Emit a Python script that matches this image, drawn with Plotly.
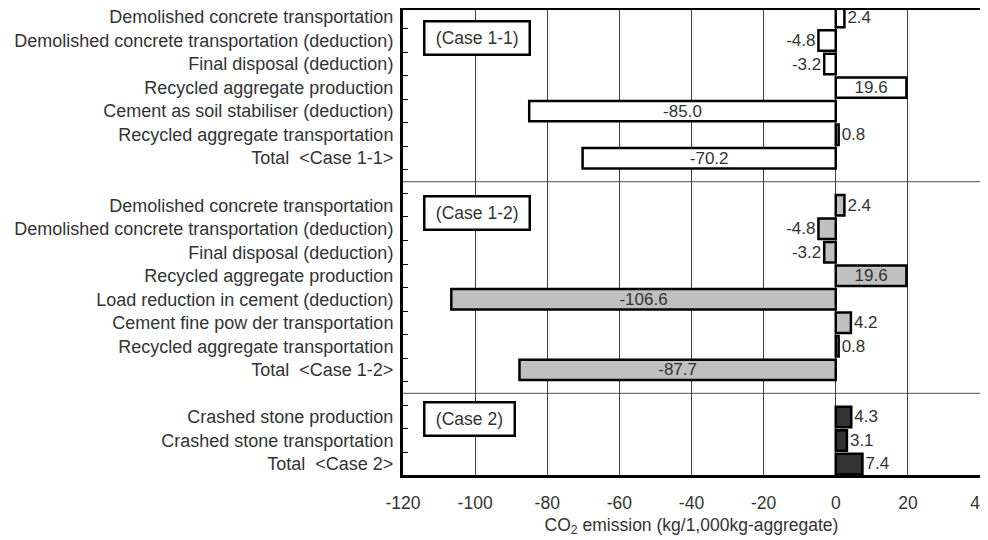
import plotly.graph_objects as go

# ---- data ----
case11_labels = [
    "Demolished concrete transportation",
    "Demolished concrete transportation (deduction)",
    "Final disposal (deduction)",
    "Recycled aggregate production",
    "Cement as soil stabiliser (deduction)",
    "Recycled aggregate transportation",
    "Total  <Case 1-1>",
]
case11_values = [2.4, -4.8, -3.2, 19.6, -85.0, 0.8, -70.2]

case12_labels = [
    "Demolished concrete transportation",
    "Demolished concrete transportation (deduction)",
    "Final disposal (deduction)",
    "Recycled aggregate production",
    "Load reduction in cement (deduction)",
    "Cement fine pow der transportation",
    "Recycled aggregate transportation",
    "Total  <Case 1-2>",
]
case12_values = [2.4, -4.8, -3.2, 19.6, -106.6, 4.2, 0.8, -87.7]

case2_labels = [
    "Crashed stone production",
    "Crashed stone transportation",
    "Total  <Case 2>",
]
case2_values = [4.3, 3.1, 7.4]

case_names = ["(Case 1-1)", "(Case 1-2)", "(Case 2)"]
x_ticks = [-120, -100, -80, -60, -40, -20, 0, 20, 40]
x_ticklabels = ["-120", "-100", "-80", "-60", "-40", "-20", "0", "20", "40"]
x_title = "CO<sub>2</sub> emission (kg/1,000kg-aggregate)"

groups = [
    (case11_labels, case11_values, "#ffffff"),
    (case12_labels, case12_values, "#c0c0c0"),
    (case2_labels, case2_values, "#333333"),
]
box_offsets = [0.88, 0.35, 0.08]

FONT = "Liberation Sans, Arial, sans-serif"
TXT = "#333333"


def esc(s):
    return s.replace("&", "&amp;").replace("<", "&lt;").replace(">", "&gt;").replace("  ", "\u00a0 ")


fig = go.Figure()
tickvals, ticktext = [], []
group_starts, dividers = [], []
pos = 0
for gi, (labels, values, color) in enumerate(groups):
    ys = list(range(pos, pos + len(labels)))
    group_starts.append(pos)
    tickvals += ys
    ticktext += [esc(l) for l in labels]
    textpos = ["inside" if abs(v) >= 15 else "outside" for v in values]
    fig.add_trace(go.Bar(
        x=values, y=ys, orientation="h", width=0.87,
        marker=dict(color=color, line=dict(color="#000000", width=2.5)),
        text=[f"{v:.1f}" for v in values], textposition=textpos,
        insidetextanchor="middle",
        textfont=dict(family=FONT, size=17, color=TXT),
        constraintext="none", cliponaxis=False, showlegend=False,
        hoverinfo="skip",
    ))
    pos += len(labels)
    if gi < len(groups) - 1:
        dividers.append(pos)
        pos += 1

for d in dividers:
    fig.add_shape(type="line", xref="paper", x0=0, x1=1, yref="y", y0=d, y1=d,
                  line=dict(color="#707070", width=1.2), layer="below")

for name, start, off in zip(case_names, group_starts, box_offsets):
    fig.add_annotation(
        text="\u00a0" + name + "\u00a0", xref="paper", x=0.034, xanchor="left",
        yref="y", y=start + off, yanchor="middle",
        showarrow=False, bordercolor="#000000", borderwidth=2.5, borderpad=5.5,
        bgcolor="#ffffff", font=dict(family=FONT, size=17.5, color=TXT),
    )

# page body keeps its default 8px margin, so margins are set to compensate
fig.update_layout(
    width=988, height=540,
    margin=dict(l=395, r=16, t=2, b=73, autoexpand=False),
    paper_bgcolor="#ffffff", plot_bgcolor="#ffffff",
    barmode="overlay",
    font=dict(family=FONT, size=17, color=TXT),
    xaxis=dict(
        range=[-120, 40], tickvals=x_ticks, ticktext=x_ticklabels,
        ticks="outside", ticklen=10, tickcolor="rgba(0,0,0,0)",
        showgrid=True, gridcolor="#404040", gridwidth=1,
        zeroline=True, zerolinecolor="#404040", zerolinewidth=1,
        showline=True, linecolor="#000000", linewidth=3, mirror=True,
        automargin=False, ticklabeloverflow="allow",
        tickfont=dict(family=FONT, size=17.5, color=TXT),
        title=dict(text=x_title, font=dict(family=FONT, size=17.5, color=TXT), standoff=7),
    ),
    yaxis=dict(
        range=[19.47, -0.30], tickvals=tickvals, ticktext=ticktext,
        ticks="", showgrid=False, zeroline=False,
        showline=True, linecolor="#000000", linewidth=3, mirror=True,
        automargin=False, ticklabeloverflow="allow",
        tickfont=dict(family=FONT, size=18, color=TXT),
        ticklabelstandoff=3,
        minor=dict(tickmode="array", tickvals=[i + 0.5 for i in range(19)],
                   ticks="inside", ticklen=5, tickcolor="#000000", tickwidth=1,
                   showgrid=False),
    ),
)

fig.write_html("out.html", config={"displayModeBar": False})
